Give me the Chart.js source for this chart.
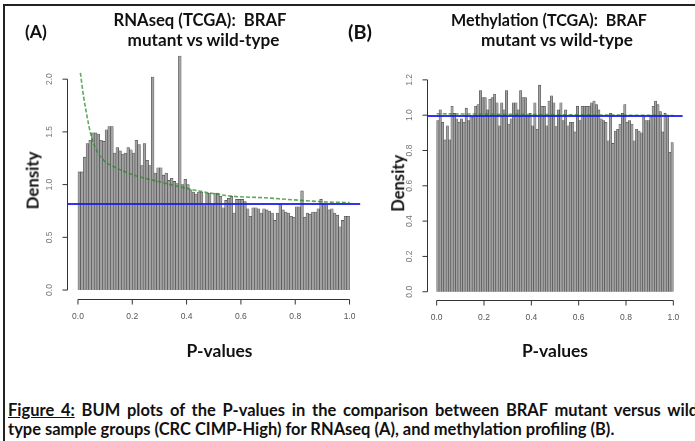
<!DOCTYPE html>
<html><head><meta charset="utf-8">
<script src="https://cdn.jsdelivr.net/npm/chart.js@4.4.1/dist/chart.umd.min.js"></script>
<style>
html,body{margin:0;padding:0;width:695px;height:441px;overflow:hidden;background:#fff;}
#frame{position:absolute;left:3px;top:4px;width:760px;height:500px;border-left:2px solid #222;border-top:2px solid #222;}
.t{position:absolute;font-family:Lato,"Open Sans",sans-serif;font-weight:bold;color:#111;white-space:nowrap;line-height:1;}
canvas{position:absolute;}
</style></head>
<body>
<div id="frame"></div>
<canvas id="cA" width="380" height="380" style="left:0;top:0"></canvas>
<canvas id="cB" width="315" height="380" style="left:380px;top:0"></canvas>

<div class="t" data-w="22" data-cx="36" data-cy="31.5">(A)</div>
<div class="t" data-w="173" data-cx="200" data-cy="20">RNAseq (TCGA):&nbsp; BRAF</div>
<div class="t" data-w="152" data-cx="203.5" data-cy="40">mutant vs wild-type</div>
<div class="t" data-w="24" data-cx="360" data-cy="31.5">(B)</div>
<div class="t" data-w="196" data-cx="549" data-cy="20">Methylation (TCGA):&nbsp; BRAF</div>
<div class="t" data-w="152" data-cx="557" data-cy="40">mutant vs wild-type</div>
<div class="t" data-w="58" data-cx="33" data-cy="180" data-rot="1">Density</div>
<div class="t" data-w="57" data-cx="398.5" data-cy="183" data-rot="1">Density</div>
<div class="t" data-w="66" data-cx="219.5" data-cy="351">P-values</div>
<div class="t" data-w="66" data-cx="555" data-cy="351">P-values</div>
<div class="t" id="cap1" data-left="8" data-cy="410" data-fsfrom="cap2" style="word-spacing:2.8px"><u>Figure 4:</u> BUM plots of the P-values in the comparison between BRAF mutant versus wild</div>
<div class="t" id="cap2" data-w="607" data-left="8" data-cy="429">type sample groups (CRC CIMP-High) for RNAseq (A), and methylation profiling (B).</div>

<script>
// ---------- data ----------
const pBins = Array.from({length: 100}, (_, i) => (i + 0.5) / 100);
const rnaDensity = [
  1.12,1.12,1.26,1.39,1.42,1.49,1.49,1.48,1.42,1.41,
  1.52,1.55,1.55,1.30,1.35,1.32,1.29,1.30,1.35,1.33,
  1.30,1.42,1.38,1.18,1.39,1.23,1.18,2.02,1.11,1.16,
  1.16,1.09,1.11,1.04,1.06,1.03,1.01,2.22,1.00,1.05,
  1.00,0.95,0.93,0.91,0.93,0.93,0.80,0.92,0.92,0.81,
  0.92,0.92,0.89,0.78,0.85,0.87,0.89,0.73,0.86,0.86,
  0.86,0.84,0.77,0.70,0.78,0.78,0.77,0.73,0.77,0.76,
  0.75,0.73,0.66,0.73,0.81,0.76,0.74,0.73,0.70,0.69,
  0.79,0.79,0.94,0.69,0.73,0.72,0.74,0.74,0.77,0.86,
  0.82,0.81,0.76,0.77,0.73,0.71,0.60,0.66,0.70,0.70
];
const methDensity = [
  0.97,1.03,0.96,0.86,0.94,0.86,1.05,1.01,0.98,0.96,
  0.98,0.96,1.04,0.97,0.99,0.99,1.05,1.06,1.14,1.10,
  1.10,1.03,1.09,1.10,1.12,1.07,0.94,1.07,1.03,1.14,
  0.95,0.98,1.07,1.07,1.03,1.14,1.10,1.10,0.99,1.01,
  0.94,1.07,0.92,1.17,1.05,1.05,0.94,1.08,1.11,1.07,
  0.935,1.03,1.07,0.97,1.03,0.94,0.96,0.96,0.905,1.05,
  0.97,1.05,1.05,1.05,1.05,1.07,1.08,1.06,1.03,0.98,
  0.97,0.96,0.855,1.01,0.84,0.91,0.92,0.95,1.01,1.06,
  0.96,0.97,0.95,0.855,0.92,0.91,0.90,0.99,0.97,0.97,
  0.99,1.05,1.08,1.06,1.02,0.905,1.01,1.00,0.79,0.845
];
const rnaFitP = [0.009,0.021,0.034,0.046,0.064,0.095,0.132,0.175,0.218,0.279,0.341,0.445,0.568,0.69,0.795,0.918,1.0];
const rnaFitD = [2.06,1.83,1.64,1.49,1.35,1.23,1.17,1.12,1.08,1.04,1.00,0.94,0.89,0.875,0.855,0.835,0.83];
const methFitP = [0, 1];
const methFitD = [1.008, 0.998];
const rnaPi0 = 0.816;
const methPi0 = 0.995;
const xTicks = [0, 0.2, 0.4, 0.6, 0.8, 1.0];
const xTickLabels = ['0.0','0.2','0.4','0.6','0.8','1.0'];
const rnaYTicks = [0, 0.5, 1.0, 1.5, 2.0];
const rnaYTickLabels = ['0.0','0.5','1.0','1.5','2.0'];
const methYTicks = [0, 0.2, 0.4, 0.6, 0.8, 1.0, 1.2];
const methYTickLabels = ['0.0','0.2','0.4','0.6','0.8','1.0','1.2'];

// ---------- text layout ----------
function layoutText() {
  const els = Array.from(document.querySelectorAll('.t'));
  const sizes = {};
  els.filter(e => e.dataset.w).forEach(el => {
    el.style.transform = 'none';
    el.style.fontSize = '20px';
    const w = el.getBoundingClientRect().width;
    const fs = 20 * (+el.dataset.w) / w;
    el.style.fontSize = fs + 'px';
    if (el.id) sizes[el.id] = fs;
  });
  els.filter(e => e.dataset.fsfrom).forEach(el => { el.style.fontSize = sizes[el.dataset.fsfrom] + 'px'; });
  els.forEach(el => {
    el.style.transform = 'none';
    const r = el.getBoundingClientRect();
    if (el.dataset.left !== undefined) el.style.left = el.dataset.left + 'px';
    else el.style.left = (+el.dataset.cx - r.width / 2) + 'px';
    el.style.top = (+el.dataset.cy - r.height / 2) + 'px';
    if (el.dataset.rot) el.style.transform = 'rotate(-90deg)';
  });
}
layoutText();
if (document.fonts && document.fonts.ready) document.fonts.ready.then(layoutText);

// ---------- R-style axes ----------
function makeAxes(cfg) {
  return {
    id: 'rAxes',
    afterDraw(chart) {
      const {ctx, chartArea: a} = chart;
      const x = chart.scales.x, y = chart.scales.y;
      ctx.save();
      ctx.strokeStyle = '#333';
      ctx.lineWidth = 1;
      const yb = Math.round(a.bottom) + 0.5;
      const xa = x.getPixelForValue(cfg.xTicks[0]);
      const xz = x.getPixelForValue(cfg.xTicks[cfg.xTicks.length - 1]);
      ctx.beginPath();
      ctx.moveTo(xa, yb); ctx.lineTo(xz, yb);
      cfg.xTicks.forEach(v => { const px = x.getPixelForValue(v); ctx.moveTo(px, yb); ctx.lineTo(px, yb + 5); });
      const xl = Math.round(a.left) + 0.5;
      const ya = y.getPixelForValue(cfg.yTicks[0]);
      const yz = y.getPixelForValue(cfg.yTicks[cfg.yTicks.length - 1]);
      ctx.moveTo(xl, ya); ctx.lineTo(xl, yz);
      cfg.yTicks.forEach(v => { const py = y.getPixelForValue(v); ctx.moveTo(xl, py); ctx.lineTo(xl - 5, py); });
      ctx.stroke();
      ctx.fillStyle = '#555';
      ctx.font = '8.5px "Liberation Sans", Arial, sans-serif';
      ctx.textAlign = 'center';
      ctx.textBaseline = 'middle';
      cfg.xTicks.forEach((v, i) => ctx.fillText(cfg.xLabels[i], x.getPixelForValue(v), yb + 17));
      ctx.fillStyle = '#777';
      cfg.yTicks.forEach((v, i) => {
        ctx.save();
        ctx.translate(xl - 18, y.getPixelForValue(v));
        ctx.rotate(-Math.PI / 2);
        ctx.fillText(cfg.yLabels[i], 0, 0);
        ctx.restore();
      });
      ctx.restore();
    }
  };
}

function makeChart(id, dens, fitP, fitD, pi0, yMin, yMax, pad, yTicks, yLabels) {
  return new Chart(document.getElementById(id), {
    type: 'bar',
    data: {
      datasets: [
        { type: 'line', data: [{x: -0.04, y: pi0}, {x: 1.04, y: pi0}], borderColor: 'rgba(30,30,235,0.9)', borderWidth: 2, pointRadius: 0, order: 1 },
        { type: 'line', data: fitP.map((p, i) => ({x: p, y: fitD[i]})), borderColor: 'rgba(40,140,40,0.75)', borderWidth: 1.6, borderDash: [4, 2], pointRadius: 0, cubicInterpolationMode: 'monotone', order: 2 },
        { type: 'bar', data: pBins.map((p, i) => ({x: p, y: dens[i]})), backgroundColor: '#a2a2a2', borderColor: '#4a4a4a', borderWidth: 0.6, barPercentage: 1, categoryPercentage: 1, order: 3 }
      ]
    },
    options: {
      responsive: false, animation: false, events: [],
      layout: { padding: pad, autoPadding: false },
      plugins: { legend: { display: false }, tooltip: { enabled: false }, title: { display: false } },
      scales: {
        x: { type: 'linear', min: -0.04, max: 1.04, offset: false, display: false },
        y: { type: 'linear', min: yMin, max: yMax, offset: false, display: false }
      }
    },
    plugins: [makeAxes({xTicks, xLabels: xTickLabels, yTicks, yLabels})]
  });
}

makeChart('cA', rnaDensity, rnaFitP, rnaFitD, rnaPi0, -0.0888, 2.3088,
  {left: 67.1, right: 19.6, top: 46.6, bottom: 80.6}, rnaYTicks, rnaYTickLabels);
makeChart('cB', methDensity, methFitP, methFitD, methPi0, -0.0468, 1.2168,
  {left: 47.2, right: 12.2, top: 76.9, bottom: 80.0}, methYTicks, methYTickLabels);
</script>
</body></html>
